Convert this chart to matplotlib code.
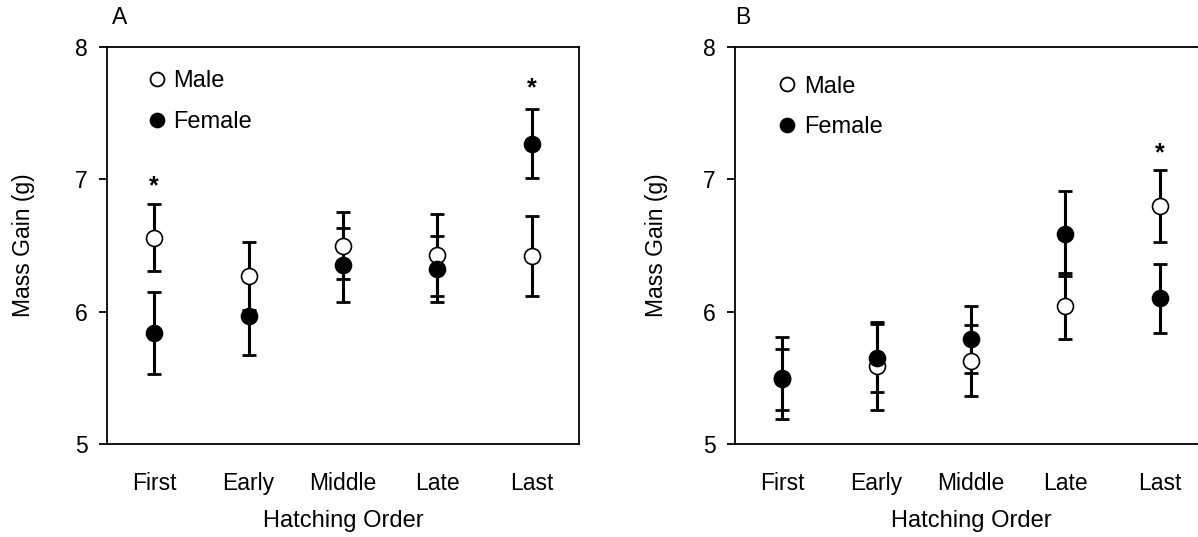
import matplotlib
matplotlib.use("Agg")
import matplotlib.pyplot as plt
from matplotlib.lines import Line2D
import numpy as np

plt.rcParams['font.family'] = ['Liberation Sans', 'DejaVu Sans']

order = ["First", "Early", "Middle", "Late", "Last"]

# panel A
a_male = [6.56, 6.27, 6.50, 6.43, 6.42]
a_male_err = [0.25, 0.26, 0.25, 0.31, 0.30]
a_female = [5.84, 5.97, 6.35, 6.32, 7.27]
a_female_err = [0.31, 0.30, 0.28, 0.25, 0.26]
a_stars = [6.95, None, None, None, 7.69]

# panel B
b_male = [5.49, 5.59, 5.63, 6.04, 6.80]
b_male_err = [0.23, 0.33, 0.27, 0.25, 0.27]
b_female = [5.50, 5.65, 5.79, 6.59, 6.10]
b_female_err = [0.31, 0.26, 0.25, 0.32, 0.26]
b_stars = [None, None, None, None, 7.20]

W, H = 1198, 537
fig = plt.figure(figsize=(W / 100, H / 100), dpi=100)


def panel(left_px, letter, male, male_err, female, female_err, stars,
          leg_xy, letter_x, ylab_pad, right_spine=True):
    ax = fig.add_axes([left_px / W, (H - 444) / H, 472 / W, 397 / H])
    x = np.arange(1, len(order) + 1)
    eb = dict(fmt="none", ecolor="black", elinewidth=2.2, capsize=5, capthick=2.0, zorder=2)
    ax.errorbar(x, male, yerr=male_err, **eb)
    ax.errorbar(x, female, yerr=female_err, **eb)
    ax.plot(x, male, "o", ms=11.5, mfc="white", mec="black", mew=1.2, zorder=3)
    ax.plot(x, female, "o", ms=11.5, mfc="black", mec="black", mew=1.2, zorder=4)
    for xi, s in zip(x, stars):
        if s is not None:
            ax.text(xi, s, "*", ha="center", va="center", fontsize=18, fontweight="bold")
    ax.set_xlim(0.5, 5.5)
    ax.set_ylim(5, 8)
    ax.set_yticks([5, 6, 7, 8])
    ax.set_xticks(x)
    ax.set_xticklabels(order, fontsize=16.5)
    ax.tick_params(axis="x", length=0, pad=20)
    ax.tick_params(axis="y", length=6, width=1.3, labelsize=16.5, pad=8)
    for sp in ax.spines.values():
        sp.set_linewidth(1.3)
    if not right_spine:
        ax.spines["right"].set_visible(False)
    ax.set_xlabel("Hatching Order", fontsize=17, labelpad=11)
    ax.set_ylabel("Mass Gain (g)", fontsize=16.5, labelpad=ylab_pad)
    ax.text(letter_x, 1.045, letter, transform=ax.transAxes, fontsize=16.5, ha="left", va="bottom")
    handles = [Line2D([], [], ls="none", marker="o", ms=10, mfc="white", mec="black", mew=1.3),
               Line2D([], [], ls="none", marker="o", ms=10, mfc="black", mec="black", mew=1.3)]
    ax.legend(handles, ["Male", "Female"], loc="upper left", bbox_to_anchor=leg_xy,
              frameon=False, fontsize=17, handlelength=0.9, handletextpad=0.25,
              labelspacing=0.8, borderpad=0, borderaxespad=0)
    return ax


panel(107, "A", a_male, a_male_err, a_female, a_female_err, a_stars,
      (0.083, 0.942), 0.01, 29)
panel(735, "B", b_male, b_male_err, b_female, b_female_err, b_stars,
      (0.088, 0.928), 0.0, 25, right_spine=False)

fig.savefig("out.png", dpi=100)
